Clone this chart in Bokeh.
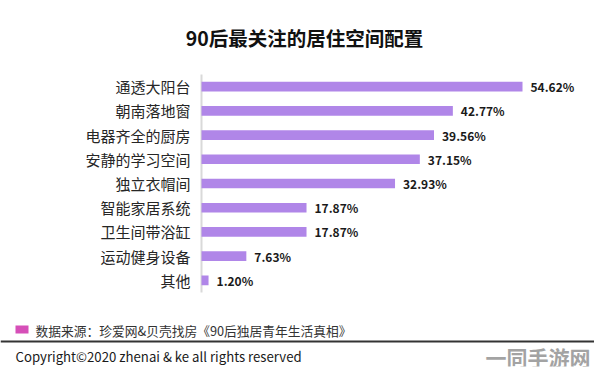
from bokeh.plotting import figure
from bokeh.models import Range1d, FactorRange, Label, ColumnDataSource, BoxAnnotation
from bokeh.core.properties import value
from bokeh.embed import file_html
from bokeh.resources import INLINE

categories = ["通透大阳台", "朝南落地窗", "电器齐全的厨房", "安静的学习空间", "独立衣帽间",
              "智能家居系统", "卫生间带浴缸", "运动健身设备", "其他"]
values = [54.62, 42.77, 39.56, 37.15, 32.93, 17.87, 17.87, 7.63, 1.20]
value_labels = ["54.62%", "42.77%", "39.56%", "37.15%", "32.93%", "17.87%", "17.87%", "7.63%", "1.20%"]

title_text = "90后最关注的居住空间配置"
source_text = "数据来源：珍爱网&贝壳找房《90后独居青年生活真相》"
copyright_text = "Copyright©2020 zhenai & ke all rights reserved"
watermark_text = "一同手游网"

FONT = "Noto Sans CJK SC"
W, H = 594, 372
BB = 6
FH = H - BB   # frame height (frame spans the canvas)

src = ColumnDataSource(dict(cat=categories, val=values, lab=value_labels,
                            zero=[0] * len(categories)))

p = figure(width=W, height=H, output_backend="svg", toolbar_location=None,
           x_axis_type=None, y_axis_type=None,
           y_range=FactorRange(factors=list(reversed(categories)), range_padding=0.678),
           x_range=Range1d(-34.2, 66.87),
           min_border_left=0, min_border_right=0, min_border_top=0, min_border_bottom=BB)
p.outline_line_color = None
p.grid.visible = False
p.background_fill_color = "white"
p.border_fill_color = "white"

# axis line
p.segment(x0=[0], y0=[0], x1=[0], y1=[len(categories)], line_color="#d9d9d9", line_width=2)

p.hbar(y="cat", right="val", left=0, height=0.4, source=src,
       fill_color="#b086e8", line_color=None)

# category labels
p.text(x="zero", y="cat", text="cat", source=src, x_offset=-11,
       text_font=value(FONT), text_font_size="15px", text_color="#262626",
       text_baseline="middle", text_align="right")

# value labels
p.text(x="val", y="cat", text="lab", source=src, x_offset=8,
       text_font=value(FONT), text_font_size="12px", text_font_style="bold",
       text_color="#1a1a1a", text_baseline="middle", text_align="left")

def lab(text, x, y, size, color="#262626", style="normal", align="left"):
    # x, y in canvas pixels from top-left -> frame screen units (y up)
    p.add_layout(Label(x=x, y=FH - y, x_units="screen", y_units="screen", text=text,
                       text_font=FONT, text_font_size=size, text_color=color,
                       text_font_style=style, text_align=align, text_baseline="middle"))

def box(left, right, top, bottom, color):
    p.add_layout(BoxAnnotation(left=left, right=right, top=FH - top, bottom=FH - bottom,
                               left_units="screen", right_units="screen",
                               top_units="screen", bottom_units="screen",
                               fill_color=color, fill_alpha=1, line_color=None))

lab(title_text, 304, 37, "19.5px", color="#111111", style="bold", align="center")
box(15, 28, 325, 333, "#d64fb8")
lab(source_text, 35, 330, "12.75px", color="#333333")
box(0, W, 340, 342, "#333333")
lab(copyright_text, 15, 356, "13.2px", color="#1a1a1a")
lab(watermark_text, 485, 356, "21px", color="#a3a3a3", style="bold")

open("out.html", "w").write(file_html(p, INLINE))
